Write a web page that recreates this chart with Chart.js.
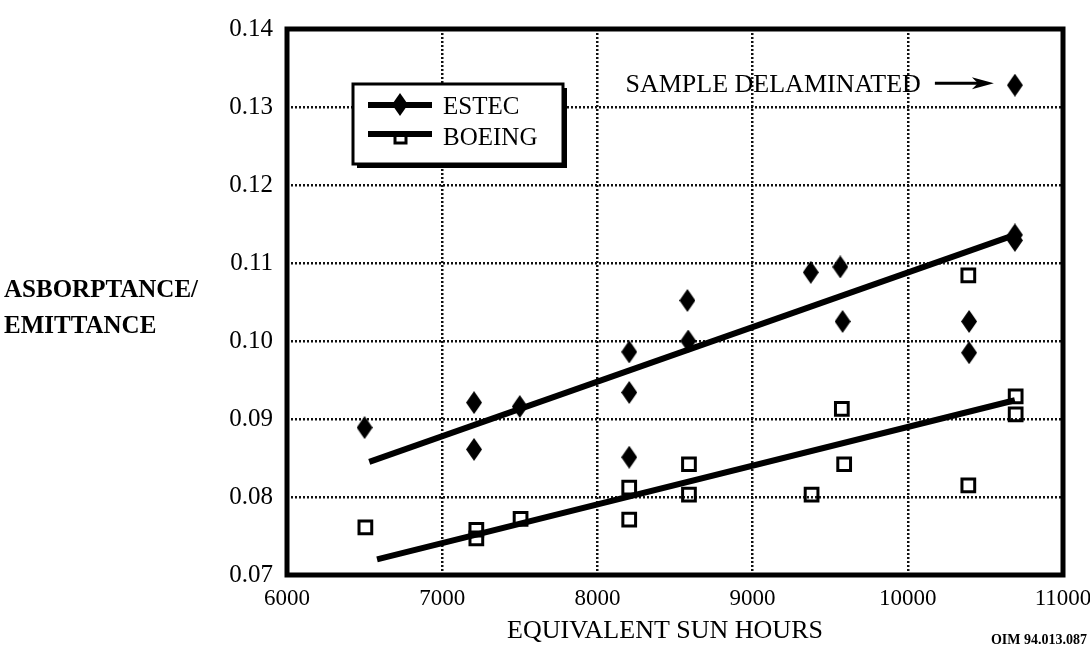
<!DOCTYPE html>
<html>
<head>
<meta charset="utf-8">
<script src="https://cdn.jsdelivr.net/npm/chart.js@4.4.1/dist/chart.umd.min.js"></script>
<style>
  body { margin: 0; background: #fff; }
  canvas { display: block; }
</style>
</head>
<body>
<canvas id="canva" width="1090" height="646"></canvas>
<script>
// valores
const estecHoras = [6500, 7205, 7205, 7500, 8205, 8205, 8205, 8580, 8585, 9375, 9565, 9580, 10395, 10395, 10690, 10690, 10690];
const estecValores = [0.0889, 0.0921, 0.0861, 0.0916, 0.0986, 0.0934, 0.0851, 0.1052, 0.1000, 0.1088, 0.1095, 0.1025, 0.1025, 0.0985, 0.1136, 0.1129, 0.1328];
const boeingHoras = [6505, 7220, 7220, 7505, 8205, 8205, 8590, 8590, 9380, 9575, 9590, 10390, 10390, 10695, 10695];
const boeingValores = [0.0761, 0.0758, 0.0747, 0.0772, 0.0812, 0.0771, 0.0842, 0.0803, 0.0803, 0.0913, 0.0842, 0.0815, 0.1084, 0.0929, 0.0906];
const estecAjusteHoras = [6530, 10690];
const estecAjusteValores = [0.0845, 0.1136];
const boeingAjusteHoras = [6580, 10690];
const boeingAjusteValores = [0.0720, 0.0924];
const series = ["ESTEC", "BOEING"];
const ejeX = "EQUIVALENT SUN HOURS";
const ejeY = ["ASBORPTANCE/", "EMITTANCE"];
const nota = "SAMPLE DELAMINATED";
const codigo = "OIM 94.013.087";

const serif = "'Liberation Serif', 'Times New Roman', serif";

function rombo(w, h) {
    const c = document.createElement("canvas");
    c.width = w;
    c.height = h;
    const g = c.getContext("2d");
    g.beginPath();
    g.moveTo(w / 2, 0);
    g.lineTo(w, h / 2);
    g.lineTo(w / 2, h);
    g.lineTo(0, h / 2);
    g.closePath();
    g.fillStyle = "#000";
    g.fill();
    return c;
}
const diamante = rombo(16, 23);

const puntos = (xs, ys) => xs.map((x, i) => ({ x: x, y: ys[i] }));

const datax = {
    datasets: [{
        label: series[0] + " fit",
        data: puntos(estecAjusteHoras, estecAjusteValores),
        showLine: true,
        borderColor: "#000",
        borderWidth: 6,
        pointRadius: 0,
        order: 3
    }, {
        label: series[1] + " fit",
        data: puntos(boeingAjusteHoras, boeingAjusteValores),
        showLine: true,
        borderColor: "#000",
        borderWidth: 6,
        pointRadius: 0,
        order: 3
    }, {
        label: series[0],
        data: puntos(estecHoras, estecValores),
        pointStyle: diamante,
        pointRadius: 9,
        order: 1
    }, {
        label: series[1],
        data: puntos(boeingHoras, boeingValores),
        pointStyle: "rect",
        pointRadius: 9,
        borderColor: "#000",
        borderWidth: 3,
        backgroundColor: "rgba(0,0,0,0)",
        order: 2
    }]
};

// marco, leyenda, anotacion y titulos
const extras = {
    id: "extras",
    afterDraw(chart) {
        const c = chart.ctx;
        const a = chart.chartArea;
        const sx = chart.scales.x;
        const sy = chart.scales.y;
        c.save();
        c.strokeStyle = "#000";
        c.lineWidth = 5;
        c.strokeRect(a.left, a.top, a.right - a.left, a.bottom - a.top);

        // leyenda
        const lx = a.left + 66, ly = a.top + 55, lw = 210, lh = 80;
        c.fillStyle = "#000";
        c.fillRect(lx + 4, ly + 4, lw, lh);
        c.fillStyle = "#fff";
        c.fillRect(lx, ly, lw, lh);
        c.lineWidth = 3;
        c.strokeRect(lx, ly, lw, lh);
        c.lineWidth = 6;
        c.beginPath();
        c.moveTo(lx + 15, ly + 21);
        c.lineTo(lx + 79, ly + 21);
        c.moveTo(lx + 15, ly + 50);
        c.lineTo(lx + 79, ly + 50);
        c.stroke();
        c.drawImage(diamante, lx + 47 - 8, ly + 21 - 12);
        c.lineWidth = 3;
        c.strokeRect(lx + 42, ly + 51, 11, 8);
        c.fillStyle = "#000";
        c.font = "25px " + serif;
        c.textAlign = "left";
        c.textBaseline = "alphabetic";
        c.fillText(series[0], lx + 90, ly + 30);
        c.fillText(series[1], lx + 90, ly + 61);

        // nota con flecha
        const px = sx.getPixelForValue(estecHoras[16]);
        const py = sy.getPixelForValue(estecValores[16]);
        const fx1 = px - 21, fx0 = px - 80, fy = py - 2;
        c.lineWidth = 3;
        c.beginPath();
        c.moveTo(fx0, fy);
        c.lineTo(fx1 - 14, fy);
        c.stroke();
        c.beginPath();
        c.moveTo(fx1, fy);
        c.lineTo(fx1 - 22, fy - 6);
        c.lineTo(fx1 - 16, fy);
        c.lineTo(fx1 - 22, fy + 6);
        c.closePath();
        c.fill();
        c.font = "26px " + serif;
        c.textAlign = "right";
        c.fillText(nota, fx0 - 14, fy + 9);

        // titulos
        c.textAlign = "center";
        c.fillText(ejeX, (a.left + a.right) / 2 - 10, 638);
        c.font = "bold 25px " + serif;
        c.textAlign = "left";
        c.fillText(ejeY[0], 4, 297);
        c.fillText(ejeY[1], 4, 333);
        c.font = "bold 14px " + serif;
        c.textAlign = "right";
        c.fillText(codigo, 1087, 644);
        c.restore();
    }
};

const config = {
    type: "scatter",
    data: datax,
    plugins: [extras],
    options: {
        responsive: false,
        animation: false,
        devicePixelRatio: 1,
        layout: { padding: { left: 0, right: 27, top: 24, bottom: 0 } },
        plugins: {
            legend: { display: false },
            tooltip: { enabled: false }
        },
        scales: {
            x: {
                type: "linear",
                min: 6000,
                max: 11000,
                ticks: {
                    stepSize: 1000,
                    color: "#000",
                    padding: 10,
                    font: { family: serif, size: 23 },
                    callback: v => String(v)
                },
                grid: {
                    color: "#111",
                    lineWidth: 2.5,
                    drawTicks: false
                },
                border: { display: false, dash: [2, 2] },
                afterFit: s => { s.height = 71; s.paddingLeft = 0; s.paddingRight = 0; }
            },
            y: {
                min: 0.07,
                max: 0.14,
                ticks: {
                    stepSize: 0.01,
                    color: "#000",
                    padding: 14,
                    font: { family: serif, size: 25 },
                    callback: v => v.toFixed(2)
                },
                grid: {
                    color: "#111",
                    lineWidth: 2.5,
                    drawTicks: false
                },
                border: { display: false, dash: [2, 2] },
                afterFit: s => { s.width = 287; }
            }
        }
    }
};
const chart = new Chart(document.getElementById("canva").getContext("2d"), config);
</script>
</body>
</html>
